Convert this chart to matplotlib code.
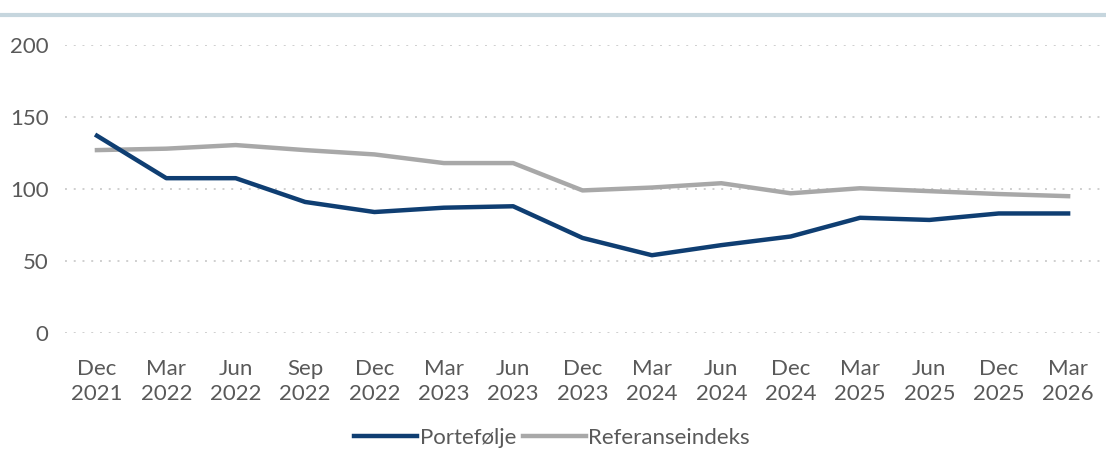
import matplotlib.pyplot as plt
from matplotlib.lines import Line2D

# quarterly observations
periods = ['Dec\n2021', 'Mar\n2022', 'Jun\n2022', 'Sep\n2022', 'Dec\n2022',
           'Mar\n2023', 'Jun\n2023', 'Dec\n2023', 'Mar\n2024', 'Jun\n2024',
           'Dec\n2024', 'Mar\n2025', 'Jun\n2025', 'Dec\n2025', 'Mar\n2026']
portefolje = [137, 107.5, 107.5, 91, 84, 87, 88, 66, 54, 61, 67, 80, 78.5, 83, 83]
referanse = [127, 128, 130.5, 127, 124, 118, 118, 99, 101, 104, 97, 100.5, 98.5, 96.5, 95]
y_ticks = [0, 50, 100, 150, 200]

plt.rcParams['font.family'] = ['Lato', 'DejaVu Sans']
txt_col = '#595959'
fs = 16

fig = plt.figure(figsize=(11.06, 4.49), dpi=100)
ax = fig.add_axes([0.0588, 0.2584, 0.9358, 0.6414])

x = list(range(len(periods)))
ax.plot(x, portefolje, color='#0f3e72', lw=3.2, solid_joinstyle='round', zorder=3)
ax.plot(x, referanse, color='#a8a8a8', lw=3.2, solid_joinstyle='round', zorder=2)

ax.set_xlim(-0.46, len(periods) - 1 + 0.46)
ax.set_ylim(0, 200)
ax.set_yticks(y_ticks)
ax.set_xticks(x)
ax.set_xticklabels(periods, fontsize=fs, color=txt_col, linespacing=1.32)
ax.tick_params(axis='y', labelsize=fs, labelcolor=txt_col, length=0, pad=12)
ax.tick_params(axis='x', length=0, pad=19)

ax.grid(axis='y', color='#cfcfcf', lw=1.4, linestyle=(0, (1, 3.5)))
ax.set_axisbelow(True)
for s in ax.spines.values():
    s.set_visible(False)

# header rule
fig.add_artist(Line2D([0, 1], [0.966, 0.966], color='#c6d6de', lw=3,
                      transform=fig.transFigure))

handles = [Line2D([], [], color='#0f3e72', lw=3.2),
           Line2D([], [], color='#a8a8a8', lw=3.2)]
fig.legend(handles, ['Portefølje', 'Referanseindeks'], loc='center',
           bbox_to_anchor=(0.499, 0.025), ncol=2, frameon=False,
           fontsize=fs, labelcolor=txt_col, handlelength=2.85,
           handletextpad=0.1, columnspacing=0.3)

fig.savefig('out.png', dpi=100)
